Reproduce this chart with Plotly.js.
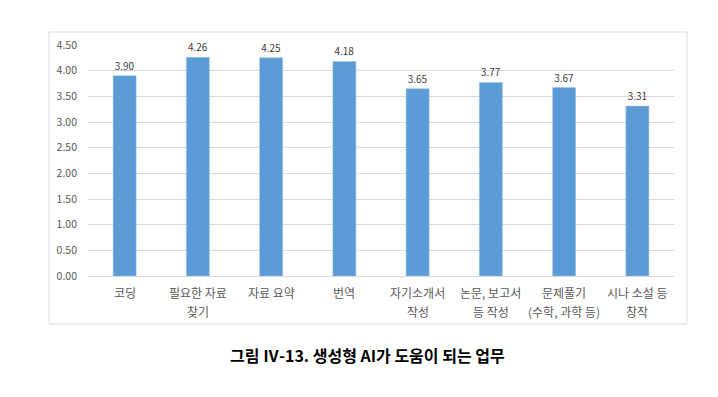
<!DOCTYPE html>
<html>
<head>
<meta charset="utf-8">
<script src="https://cdn.plot.ly/plotly-3.0.1.min.js"></script>
<style>html,body{margin:0;padding:0;background:#fff;}#chart{width:718px;height:397px;}</style>
</head>
<body>
<div id="chart"></div>
<script>
const categories = ["코딩", "필요한 자료\n찾기", "자료 요약", "번역", "자기소개서\n작성", "논문, 보고서\n등 작성", "문제풀기\n(수학, 과학 등)", "시나 소설 등\n창작"];
const values = [3.90, 4.26, 4.25, 4.18, 3.65, 3.77, 3.67, 3.31];
const yTicks = [0, 0.5, 1, 1.5, 2, 2.5, 3, 3.5, 4, 4.5];
const caption = "그림 Ⅳ-13. 생성형 AI가 도움이 되는 업무";

const font = "'Noto Sans CJK KR', 'Noto Sans', sans-serif";

const trace = {
  type: "bar",
  x: categories,
  y: values,
  text: values.map(v => v.toFixed(2)),
  textposition: "outside",
  cliponaxis: false,
  textfont: {family: font, size: 10, color: "#404040"},
  marker: {color: "#5B9BD5", line: {color: "#9DC3E6", width: 0.5}},
  hoverinfo: "none"
};

// category labels: each line placed under its category, with the reference's wider line spacing
const labelAnnotations = [];
categories.forEach(c => {
  c.split("\n").forEach((line, i) => {
    labelAnnotations.push({
      text: line, x: c, xref: "x", y: 0, yref: "paper",
      xanchor: "center", yanchor: "middle", yshift: -16 - 19 * i,
      showarrow: false, font: {family: font, size: 12, color: "#595959"}
    });
  });
});

const layout = {
  width: 718, height: 397,
  margin: {l: 88, r: 44, t: 45, b: 121},
  paper_bgcolor: "#ffffff", plot_bgcolor: "#ffffff",
  showlegend: false,
  bargap: 0.686,
  font: {family: font, color: "#595959"},
  xaxis: {
    type: "category",
    showticklabels: false,
    showgrid: false, showline: true, linecolor: "#D9D9D9", linewidth: 1,
    ticks: "", fixedrange: true
  },
  yaxis: {
    range: [0, 4.5],
    tickvals: yTicks,
    ticktext: yTicks.map(v => v.toFixed(2)),
    tickfont: {family: font, size: 10.5, color: "#595959"},
    showgrid: true, gridcolor: "#D9D9D9", gridwidth: 1,
    zeroline: false, showline: false, ticks: "", ticklabelstandoff: 10, fixedrange: true
  },
  shapes: [{
    type: "rect", xref: "paper", yref: "paper",
    x0: (49 - 88) / 586, x1: (687 - 88) / 586,
    y0: (276 - 324) / 231, y1: (276 - 32) / 231,
    line: {color: "#D9D9D9", width: 1}, fillcolor: "rgba(0,0,0,0)", layer: "below"
  }],
  annotations: labelAnnotations.concat([{
    text: "<b>" + caption + "</b>",
    xref: "paper", yref: "paper",
    x: (367 - 88) / 586, y: (276 - 355) / 231,
    xanchor: "center", yanchor: "middle", showarrow: false,
    font: {family: font, size: 16, color: "#000000"}
  }])
};

Plotly.newPlot("chart", [trace], layout, {displayModeBar: false, staticPlot: true});
</script>
</body>
</html>
